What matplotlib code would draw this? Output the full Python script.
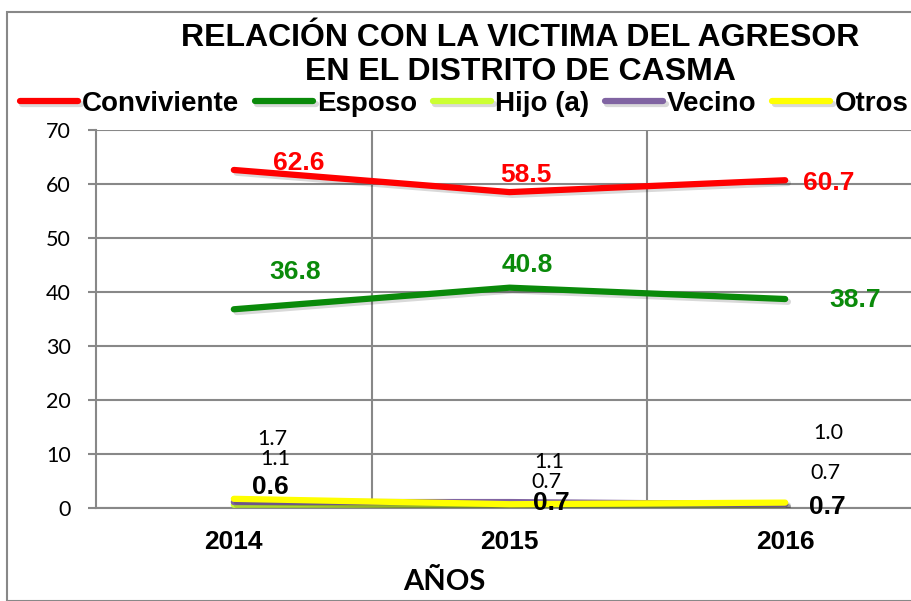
import matplotlib
matplotlib.use('Agg')
from matplotlib import pyplot as plt
from matplotlib import patheffects as pe
from matplotlib.patches import Rectangle

years = ['2014', '2015', '2016']
series_names = ['Conviviente', 'Esposo', 'Hijo (a)', 'Vecino', 'Otros']
conviviente = [62.6, 58.5, 60.7]
esposo = [36.8, 40.8, 38.7]
hijo = [0.6, 0.7, 0.7]
vecino = [1.1, 1.1, 0.7]
otros = [1.7, 0.7, 1.0]

colors = ['#ff0000', '#0a8a0a', '#ccff33', '#8064a2', '#ffff00']
values = [conviviente, esposo, hijo, vecino, otros]

# label offsets in pixels (dx, dy) for each series / year
label_offsets = [
    [(65, 7), (16, 17), (44, -3)],
    [(61, 37), (18, 23), (70, -1)],
    [(37, 18), (42, 1), (42, -3)],
    [(41, 43), (40, 40), (40, 31)],
    [(39, 60), (37, 22), (43, 70)],
]
label_styles = [
    dict(color='#ff0000', fontsize=19, fontweight='bold', family=['Liberation Sans'], zorder=2.5),
    dict(color='#0a8a0a', fontsize=19, fontweight='bold', family=['Liberation Sans'], zorder=2.5),
    dict(color='black', fontsize=19, fontweight='bold', family=['Liberation Sans'], zorder=5),
    dict(color='black', fontsize=15.5, family=['Lato'], zorder=5),
    dict(color='black', fontsize=15.5, family=['Lato'], zorder=5),
]

fig = plt.figure(figsize=(9.12, 6.01), dpi=100)
ax = fig.add_axes([96 / 912, 93 / 601, 827 / 912, 378 / 601])

x = list(range(len(years)))
handles = []
for name, vals, col in zip(series_names, values, colors):
    ln, = ax.plot(x, vals, color=col, lw=4.5, solid_capstyle='round', label=name, zorder=3,
                  path_effects=[pe.SimpleLineShadow(offset=(2, -2), alpha=0.15), pe.Normal()])
    handles.append(ln)

for vals, offs, st in zip(values, label_offsets, label_styles):
    for i, v in enumerate(vals):
        ax.annotate('%.1f' % v, (i, v), xytext=offs[i], textcoords='offset pixels',
                    ha='center', va='center', **st)

ax.set_xlim(-0.5, 2.5)
ax.set_ylim(0, 70)
ax.set_yticks(range(0, 71, 10))
ax.set_xticks(x)
ax.set_xticklabels(years, fontsize=19, fontweight='bold', family=['Liberation Sans'])
ax.set_xticks([0.5, 1.5], minor=True)
for lbl in ax.get_yticklabels():
    lbl.set_fontsize(15.5)
    lbl.set_family(['Lato'])
ax.tick_params(axis='y', length=6, width=1.5, color='#888888', pad=12)
ax.tick_params(axis='x', which='major', length=0, pad=16)
ax.tick_params(axis='x', which='minor', length=0)
ax.grid(axis='y', color='#888888', lw=1.5)
ax.grid(axis='x', which='minor', color='#888888', lw=1.5)
ax.set_axisbelow(True)
for s in ['top', 'right']:
    ax.spines[s].set_visible(False)
for s in ['left', 'bottom']:
    ax.spines[s].set_color('#888888')
    ax.spines[s].set_linewidth(1.5)

fig.text(444 / 912, 1 - 582 / 601, 'AÑOS', ha='center', va='center',
         fontsize=21, fontweight='bold', family=['Lato'])

fig.text(520 / 912, 1 - 38 / 601, 'RELACIÓN CON LA VICTIMA DEL AGRESOR', ha='center', va='center',
         fontsize=23, fontweight='bold', family=['Liberation Sans'])
fig.text(520 / 912, 1 - 72 / 601, 'EN EL DISTRITO DE CASMA', ha='center', va='center',
         fontsize=23, fontweight='bold', family=['Liberation Sans'])

fig.legend(handles=handles, loc='center', bbox_to_anchor=(464 / 912, 1 - 104 / 601), ncol=5,
           frameon=False, handlelength=2.1, handletextpad=0.15, columnspacing=0.55,
           borderpad=0, borderaxespad=0,
           prop=dict(family=['Liberation Sans'], weight='bold', size=20))

fig.patches.append(Rectangle((7 / 912, 0), 1.2, 1 - 12 / 601, transform=fig.transFigure,
                             fill=False, edgecolor='#888888', lw=1.5))

plt.savefig('out.png', dpi=100)
plt.close()
